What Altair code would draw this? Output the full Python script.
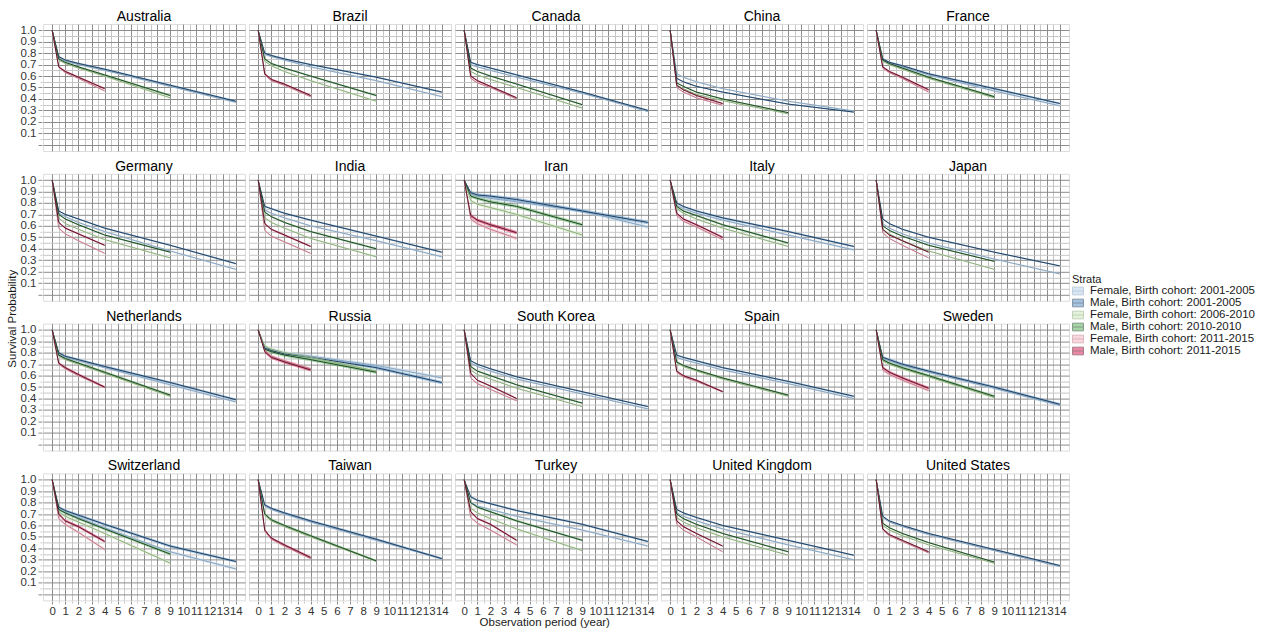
import altair as alt
import pandas as pd

COUNTRIES = ["Australia", "Brazil", "Canada", "China", "France",
             "Germany", "India", "Iran", "Italy", "Japan",
             "Netherlands", "Russia", "South Korea", "Spain", "Sweden",
             "Switzerland", "Taiwan", "Turkey", "United Kingdom", "United States"]

STRATA = ["Female, Birth cohort: 2001-2005", "Male, Birth cohort: 2001-2005",
          "Female, Birth cohort: 2006-2010", "Male, Birth cohort: 2010-2010",
          "Female, Birth cohort: 2011-2015", "Male, Birth cohort: 2011-2015"]

# observation times (years) for each birth cohort
T_2001 = [0, 0.5, 1, 2, 4, 9, 14]
T_2006 = [0, 0.5, 1, 2, 4, 9]
T_2011 = [0, 0.5, 1, 2, 4]

# survival probabilities, one list per country (order of COUNTRIES)
F2001 = [
    [1, 0.76, 0.73, 0.70, 0.65, 0.51, 0.37],
    [1, 0.79, 0.77, 0.74, 0.68, 0.56, 0.42],
    [1, 0.70, 0.68, 0.65, 0.59, 0.45, 0.29],
    [1, 0.62, 0.59, 0.55, 0.49, 0.38, 0.295],
    [1, 0.74, 0.71, 0.68, 0.61, 0.47, 0.34],
    [1, 0.71, 0.68, 0.63, 0.55, 0.38, 0.22],
    [1, 0.74, 0.71, 0.67, 0.60, 0.47, 0.33],
    [1, 0.88, 0.86, 0.84, 0.81, 0.73, 0.59],
    [1, 0.78, 0.75, 0.71, 0.65, 0.52, 0.39],
    [1, 0.62, 0.58, 0.53, 0.45, 0.31, 0.18],
    [1, 0.79, 0.76, 0.73, 0.67, 0.52, 0.37],
    [1, 0.85, 0.83, 0.80, 0.77, 0.69, 0.58],
    [1, 0.71, 0.68, 0.64, 0.57, 0.44, 0.31],
    [1, 0.76, 0.74, 0.71, 0.65, 0.53, 0.40],
    [1, 0.75, 0.73, 0.69, 0.63, 0.49, 0.34],
    [1, 0.74, 0.71, 0.67, 0.58, 0.37, 0.22],
    [1, 0.77, 0.74, 0.70, 0.63, 0.47, 0.31],
    [1, 0.80, 0.77, 0.74, 0.68, 0.56, 0.42],
    [1, 0.71, 0.68, 0.64, 0.57, 0.43, 0.30],
    [1, 0.67, 0.63, 0.59, 0.52, 0.38, 0.24],
]
M2001 = [
    [1, 0.77, 0.74, 0.71, 0.66, 0.52, 0.38],
    [1, 0.80, 0.78, 0.75, 0.70, 0.59, 0.46],
    [1, 0.72, 0.70, 0.67, 0.61, 0.46, 0.30],
    [1, 0.58, 0.55, 0.51, 0.46, 0.355, 0.285],
    [1, 0.75, 0.72, 0.69, 0.62, 0.49, 0.36],
    [1, 0.73, 0.70, 0.66, 0.58, 0.43, 0.27],
    [1, 0.77, 0.75, 0.71, 0.65, 0.51, 0.37],
    [1, 0.89, 0.87, 0.86, 0.83, 0.73, 0.63],
    [1, 0.80, 0.77, 0.73, 0.67, 0.55, 0.42],
    [1, 0.66, 0.62, 0.57, 0.50, 0.37, 0.25],
    [1, 0.80, 0.77, 0.74, 0.68, 0.54, 0.39],
    [1, 0.84, 0.82, 0.79, 0.76, 0.67, 0.54],
    [1, 0.73, 0.70, 0.66, 0.59, 0.46, 0.33],
    [1, 0.78, 0.76, 0.73, 0.67, 0.55, 0.42],
    [1, 0.76, 0.74, 0.70, 0.64, 0.50, 0.35],
    [1, 0.76, 0.73, 0.69, 0.61, 0.42, 0.285],
    [1, 0.78, 0.75, 0.71, 0.64, 0.48, 0.31],
    [1, 0.85, 0.82, 0.79, 0.73, 0.61, 0.46],
    [1, 0.74, 0.71, 0.67, 0.60, 0.47, 0.34],
    [1, 0.68, 0.64, 0.60, 0.53, 0.39, 0.25],
]
F2006 = [
    [1, 0.74, 0.71, 0.67, 0.60, 0.41],
    [1, 0.73, 0.69, 0.64, 0.56, 0.38],
    [1, 0.64, 0.61, 0.57, 0.50, 0.32],
    [1, 0.52, 0.49, 0.44, 0.385, 0.27],
    [1, 0.73, 0.70, 0.66, 0.58, 0.41],
    [1, 0.67, 0.62, 0.57, 0.48, 0.32],
    [1, 0.67, 0.63, 0.58, 0.49, 0.33],
    [1, 0.82, 0.79, 0.76, 0.70, 0.52],
    [1, 0.75, 0.71, 0.66, 0.58, 0.42],
    [1, 0.57, 0.53, 0.47, 0.38, 0.22],
    [1, 0.77, 0.74, 0.70, 0.62, 0.42],
    [1, 0.86, 0.83, 0.80, 0.76, 0.64],
    [1, 0.65, 0.61, 0.57, 0.49, 0.33],
    [1, 0.71, 0.68, 0.64, 0.57, 0.42],
    [1, 0.73, 0.70, 0.66, 0.59, 0.41],
    [1, 0.72, 0.68, 0.63, 0.53, 0.27],
    [1, 0.69, 0.64, 0.59, 0.50, 0.29],
    [1, 0.75, 0.71, 0.66, 0.57, 0.38],
    [1, 0.67, 0.63, 0.58, 0.50, 0.34],
    [1, 0.60, 0.56, 0.51, 0.43, 0.27],
]
M2006 = [
    [1, 0.75, 0.72, 0.68, 0.61, 0.43],
    [1, 0.75, 0.71, 0.67, 0.60, 0.43],
    [1, 0.67, 0.64, 0.60, 0.53, 0.35],
    [1, 0.54, 0.51, 0.46, 0.40, 0.28],
    [1, 0.74, 0.71, 0.67, 0.59, 0.42],
    [1, 0.70, 0.66, 0.61, 0.52, 0.37],
    [1, 0.72, 0.68, 0.63, 0.55, 0.40],
    [1, 0.86, 0.84, 0.81, 0.77, 0.61],
    [1, 0.77, 0.73, 0.69, 0.61, 0.45],
    [1, 0.60, 0.56, 0.51, 0.43, 0.29],
    [1, 0.78, 0.75, 0.71, 0.63, 0.43],
    [1, 0.83, 0.81, 0.78, 0.74, 0.63],
    [1, 0.68, 0.64, 0.60, 0.52, 0.36],
    [1, 0.72, 0.69, 0.65, 0.58, 0.43],
    [1, 0.74, 0.71, 0.67, 0.60, 0.42],
    [1, 0.74, 0.71, 0.66, 0.57, 0.35],
    [1, 0.70, 0.65, 0.60, 0.51, 0.29],
    [1, 0.80, 0.76, 0.72, 0.64, 0.47],
    [1, 0.70, 0.66, 0.61, 0.53, 0.37],
    [1, 0.62, 0.58, 0.53, 0.45, 0.28],
]
F2011 = [
    [1, 0.68, 0.63, 0.58, 0.47],
    [1, 0.61, 0.56, 0.52, 0.42],
    [1, 0.58, 0.54, 0.50, 0.40],
    [1, 0.50, 0.46, 0.41, 0.345],
    [1, 0.67, 0.63, 0.58, 0.46],
    [1, 0.58, 0.53, 0.47, 0.36],
    [1, 0.56, 0.51, 0.46, 0.36],
    [1, 0.66, 0.62, 0.57, 0.49],
    [1, 0.69, 0.64, 0.59, 0.48],
    [1, 0.54, 0.49, 0.43, 0.32],
    [1, 0.70, 0.66, 0.60, 0.50],
    [1, 0.82, 0.77, 0.73, 0.66],
    [1, 0.58, 0.53, 0.48, 0.38],
    [1, 0.63, 0.59, 0.55, 0.46],
    [1, 0.65, 0.61, 0.56, 0.47],
    [1, 0.66, 0.61, 0.54, 0.39],
    [1, 0.55, 0.48, 0.42, 0.31],
    [1, 0.67, 0.62, 0.56, 0.43],
    [1, 0.61, 0.56, 0.50, 0.37],
    [1, 0.56, 0.51, 0.46, 0.36],
]
M2011 = [
    [1, 0.68, 0.64, 0.59, 0.49],
    [1, 0.62, 0.57, 0.53, 0.43],
    [1, 0.60, 0.56, 0.51, 0.41],
    [1, 0.52, 0.48, 0.43, 0.36],
    [1, 0.68, 0.64, 0.59, 0.48],
    [1, 0.63, 0.58, 0.53, 0.43],
    [1, 0.62, 0.57, 0.52, 0.42],
    [1, 0.69, 0.65, 0.61, 0.54],
    [1, 0.71, 0.66, 0.61, 0.50],
    [1, 0.57, 0.52, 0.47, 0.37],
    [1, 0.71, 0.67, 0.61, 0.50],
    [1, 0.81, 0.76, 0.72, 0.65],
    [1, 0.62, 0.56, 0.51, 0.40],
    [1, 0.64, 0.60, 0.56, 0.46],
    [1, 0.67, 0.63, 0.58, 0.49],
    [1, 0.70, 0.64, 0.59, 0.46],
    [1, 0.56, 0.49, 0.43, 0.32],
    [1, 0.72, 0.66, 0.61, 0.47],
    [1, 0.64, 0.59, 0.53, 0.42],
    [1, 0.57, 0.52, 0.47, 0.37],
]

# half width of the confidence band, per country
BAND = [0.008, 0.008, 0.007, 0.006, 0.009, 0.007, 0.008, 0.015, 0.009, 0.006,
        0.010, 0.014, 0.007, 0.008, 0.012, 0.012, 0.010, 0.009, 0.007, 0.006]

FILLS = ["#b9d3ea", "#5a93c8", "#cdeabb", "#5cb35c", "#f7b6c5", "#e0245e"]
LINES = ["#8aa5bf", "#22405f", "#8fae80", "#21482a", "#c07d8c", "#5c1829"]

SERIES = [(STRATA[0], T_2001, F2001), (STRATA[1], T_2001, M2001),
          (STRATA[2], T_2006, F2006), (STRATA[3], T_2006, M2006),
          (STRATA[4], T_2011, F2011), (STRATA[5], T_2011, M2011)]

rows = []
for ci, country in enumerate(COUNTRIES):
    hw = BAND[ci]
    for name, times, table in SERIES:
        for t, s in zip(times, table[ci]):
            rows.append({"country": country, "stratum": name, "t": t, "s": s,
                         "lo": s - (hw if t > 0 else 0), "hi": min(1.0, s + hw)})
df = pd.DataFrame(rows)

FONT = "Liberation Sans"
MAJOR = "#8c8c8c"
MINOR = "#c6c6c6"

x_axis = alt.Axis(
    values=[i * 0.5 for i in range(29)],
    labelExpr="datum.value % 1 == 0 ? format(datum.value, 'd') : ''",
    labelOverlap=False, labelFlush=False, labelPadding=1,
    labelFontSize=11.5, labelColor="#333333", labelFont=FONT,
    grid=True,
    gridColor={"condition": {"test": "datum.value % 1 == 0", "value": MAJOR}, "value": MINOR},
    tickColor={"condition": {"test": "datum.value % 1 == 0", "value": MAJOR}, "value": MINOR},
    tickSize={"condition": {"test": "datum.value % 1 == 0", "value": 3}, "value": 2},
    domain=False, title=None,
)
y_axis = alt.Axis(
    values=[round(i * 0.05, 2) for i in range(21)],
    labelExpr="(datum.value > 0.01 && abs(datum.value * 10 - round(datum.value * 10)) < 0.001) ? format(datum.value, '.1f') : ''",
    labelOverlap=False, labelFlush=False, labelPadding=2,
    labelFontSize=11.5, labelColor="#333333", labelFont=FONT,
    grid=True,
    gridColor={"condition": {"test": "abs(datum.value * 10 - round(datum.value * 10)) < 0.001", "value": MAJOR}, "value": MINOR},
    tickColor={"condition": {"test": "abs(datum.value * 10 - round(datum.value * 10)) < 0.001", "value": MAJOR}, "value": MINOR},
    tickSize={"condition": {"test": "abs(datum.value * 10 - round(datum.value * 10)) < 0.001", "value": 4}, "value": 2},
    domain=False, title=None,
)

xs = alt.Scale(domain=[-0.7, 14.7], nice=False, zero=False)
ys = alt.Scale(domain=[-0.055, 1.055], nice=False, zero=False)

legend = alt.Legend(
    title="Strata", orient="none", legendX=1029, legendY=250,
    titleFontSize=11, titleFontWeight="normal", titleFont=FONT, titleColor="#1a1a1a",
    labelFontSize=11.5, labelFont=FONT, labelColor="#1a1a1a", labelLimit=400,
    symbolType="M-1,-0.7H1V0.7H-1Z M-1,0H1", symbolSize=120, symbolStrokeWidth=1,
    rowPadding=0, titlePadding=0, labelOffset=6,
)

base = alt.Chart(df)
area = base.mark_area(opacity=0.55).encode(
    x=alt.X("t:Q", scale=xs, axis=x_axis),
    y=alt.Y("lo:Q", scale=ys, axis=y_axis),
    y2="hi:Q",
    fill=alt.Fill("stratum:N", scale=alt.Scale(domain=STRATA, range=FILLS), legend=legend),
)
line = base.mark_line(strokeWidth=1).encode(
    x=alt.X("t:Q", scale=xs, axis=x_axis),
    y=alt.Y("s:Q", scale=ys, axis=y_axis),
    stroke=alt.Stroke("stratum:N", scale=alt.Scale(domain=STRATA, range=LINES), legend=legend),
)

panels = alt.layer(area, line).properties(width=202, height=127).facet(
    facet=alt.Facet("country:N", sort=COUNTRIES,
                    header=alt.Header(title=None, labelFontSize=14, labelFont=FONT,
                                      labelColor="#000000", labelPadding=0)),
    columns=5,
    spacing={"row": 6.8, "column": 2},
).properties(
    title=alt.TitleParams("Observation period (year)", orient="bottom", anchor="middle",
                          fontSize=11.5, fontWeight="normal", font=FONT, color="#1a1a1a", offset=0)
)

chart = alt.hconcat(panels).properties(
    title=alt.TitleParams("Survival Probability", orient="left", anchor="middle",
                          fontSize=11.5, fontWeight="normal", font=FONT, color="#1a1a1a", offset=2),
    padding={"left": 6, "top": 9, "right": 0, "bottom": 0},
).configure_view(stroke=None).configure(background="white")

chart.save("out.html", embed_options={"renderer": "svg", "actions": False})
